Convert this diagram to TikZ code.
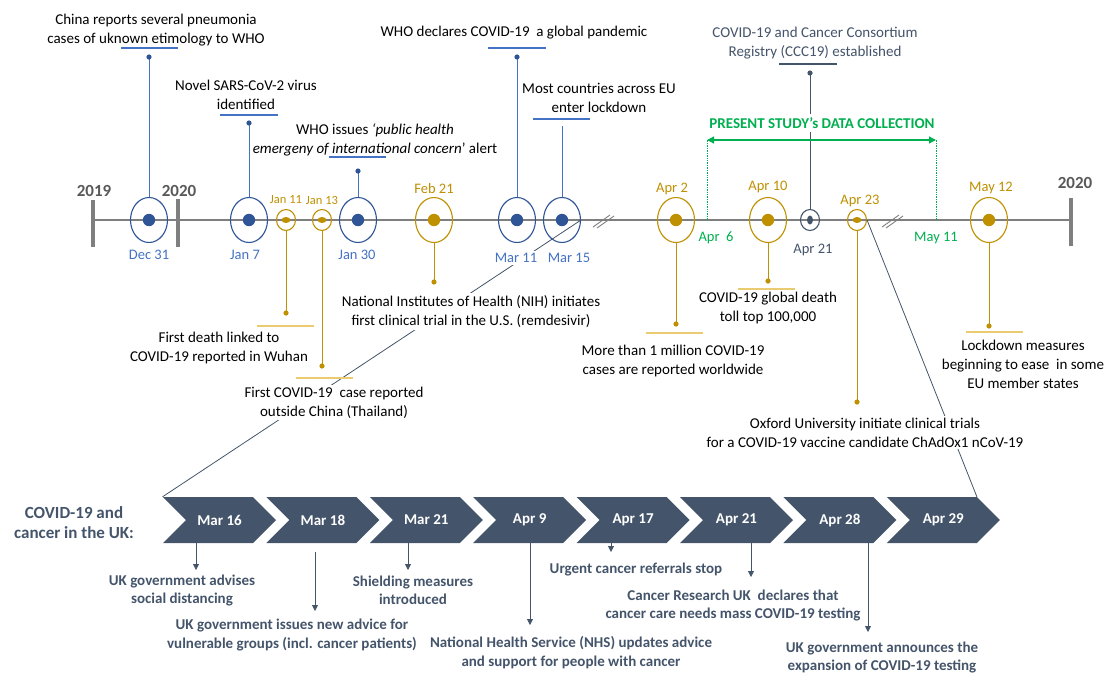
\documentclass[tikz,border=0pt]{standalone}
\usepackage{fontspec}
\setmainfont{Carlito}
\usetikzlibrary{shapes.geometric,shapes.symbols,arrows.meta}

\definecolor{evblue}{HTML}{2F5597}
\definecolor{evlblue}{HTML}{4472C4}
\definecolor{evgold}{HTML}{BF9000}
\definecolor{evlgold}{HTML}{EBCB70}
\definecolor{slate}{HTML}{44546A}
\definecolor{studygreen}{HTML}{00B050}
\definecolor{axisgray}{HTML}{7F7F7F}
\definecolor{yeargray}{HTML}{595959}

\tikzset{
  bigev/.style={ellipse, draw=#1, line width=1.1pt, minimum width=37,
                minimum height=45, inner sep=0},
  smallev/.style={ellipse, draw=#1, line width=1.1pt, minimum width=19,
                  minimum height=21, inner sep=0},
  evtext/.style={font=\fontsize{15}{19}\selectfont, align=center,
                 fill=white, inner sep=2pt},
  datelbl/.style={font=\fontsize{14.5}{16}\selectfont, text=#1,
                  fill=white, inner sep=2.5pt},
  smalldate/.style={font=\fontsize{12.5}{14}\selectfont, text=evgold,
                    inner sep=1pt},
  year/.style={font=\bfseries\fontsize{17}{20}\selectfont, text=yeargray},
  chev/.style={signal, signal from=west, signal to=east, fill=slate,
               text=white, font=\bfseries\fontsize{15}{16}\selectfont,
               minimum width=113, minimum height=46, inner sep=0},
  uktext/.style={font=\bfseries\fontsize{15}{18.5}\selectfont,
                 text=slate, align=center},
  ukarrow/.style={slate, line width=0.8pt,
                  -{Triangle[width=6pt,length=6pt]}}
}

\begin{document}
\begin{tikzpicture}[x=1pt,y=-1pt]
\useasboundingbox (0,0) rectangle (1104,673);

% Time axis of the outbreak (one pixel of the figure is one unit)
\def \axis{220}
\draw[axisgray, line width=1.3pt] (93,\axis) -- (1071,\axis);
\draw[axisgray, line width=3.5pt] (93,200)   -- (93,247)
                                  (178,199)  -- (178,247)
                                  (1071,198) -- (1071,246);
\node[year] (y2019)  at (94,191)   {2019};
\node[year] (y2020)  at (179,191)  {2020};
\node[year] (y2020r) at (1075,183) {2020};

% Breaks of the time scale
\coordinate (brk1) at (603,221);
\coordinate (brk2) at (892,221);
\draw[axisgray, line width=0.9pt, shift={(brk1)}] (-10,6) -- (7,-6)
                                                  (-6,7)  -- (11,-5);
\draw[axisgray, line width=0.9pt, shift={(brk2)}] (-10,6) -- (7,-6)
                                                  (-6,7)  -- (11,-5);

% Events on the axis (blue: WHO, gold: spread, slate: registry)
\node[bigev=evblue]   (dec31) at (149,\axis) {};
\node[bigev=evblue]   (jan7)  at (249,\axis) {};
\node[smallev=evgold] (jan11) at (286,\axis) {};
\node[smallev=evgold] (jan13) at (322,\axis) {};
\node[bigev=evblue]   (jan30) at (358,\axis) {};
\node[bigev=evgold]   (feb21) at (434,\axis) {};
\node[bigev=evblue]   (mar11) at (517,\axis) {};
\node[bigev=evblue]   (mar15) at (562,\axis) {};
\node[bigev=evgold]   (apr2)  at (676,\axis) {};
\node[bigev=evgold]   (apr10) at (768,\axis) {};
\node[smallev=slate]  (apr21) at (810,\axis) {};
\node[smallev=evgold] (apr23) at (857,\axis) {};
\node[bigev=evgold]   (may12) at (989,\axis) {};

% Filled centres of the events
\fill[evblue] (dec31) circle [radius=6.2]
              (jan7)  circle [radius=6.2]
              (jan30) circle [radius=6.2]
              (mar11) circle [radius=6.2]
              (mar15) circle [radius=6.2];
\fill[evgold] (feb21) circle [radius=6.2]
              (apr2)  circle [radius=6.2]
              (apr10) circle [radius=6.2]
              (may12) circle [radius=6.2]
              (jan11) ellipse [x radius=4.5, y radius=3]
              (jan13) ellipse [x radius=4.5, y radius=3]
              (apr23) ellipse [x radius=4.5, y radius=3];
\fill[slate]  (apr21) ellipse [x radius=3, y radius=4.5];

% UK timeline (chevrons)
\node[uktext, font=\bfseries\fontsize{17}{20}\selectfont] (uktitle)
     at (74,523) {COVID-19 and\\cancer in the UK:};
\node[chev] (uk1) at (219.5,520) {Mar 16};
\node[chev] (uk2) at (322.9,520) {Mar 18};
\node[chev] (uk3) at (426.3,520) {Mar 21};
\node[chev] (uk4) at (529.7,520) {Apr 9};
\node[chev] (uk5) at (633.1,520) {Apr 17};
\node[chev] (uk6) at (736.5,520) {Apr 21};
\node[chev] (uk7) at (839.9,520) {Apr 28};
\node[chev] (uk8) at (943.3,520) {Apr 29};

% Links between the two timelines (hidden behind the texts)
\draw[slate, line width=0.8pt] (mar15.east) -- (uk1.north west)
                               (apr23.east) -- (uk8.north east);

% Dates of the events
\node[datelbl=evlblue] (dec31lbl) at (149,255) {Dec 31};
\node[datelbl=evlblue] (jan7lbl)  at (245,255) {Jan 7};
\node[datelbl=evlblue] (jan30lbl) at (357,255) {Jan 30};
\node[datelbl=evlblue] (mar11lbl) at (516,258) {Mar 11};
\node[datelbl=evlblue] (mar15lbl) at (569,258) {Mar 15};
\node[datelbl=slate]   (apr21lbl) at (813,250) {Apr 21};
\node[datelbl=evgold]  (feb21lbl) at (434,189) {Feb 21};
\node[datelbl=evgold]  (apr2lbl)  at (672,189) {Apr 2};
\node[datelbl=evgold]  (apr10lbl) at (768,187) {Apr 10};
\node[datelbl=evgold]  (apr23lbl) at (860,201) {Apr 23};
\node[datelbl=evgold]  (may12lbl) at (991,188) {May 12};
\node[smalldate]       (jan11lbl) at (286,200) {Jan 11};
\node[smalldate]       (jan13lbl) at (322,200) {Jan 13};

% Texts of the events
\node[evtext] (chinatxt)    at (156,30)    {China reports several pneumonia\\
                                            cases of uknown etimology to WHO};
\node[evtext] (noveltxt)    at (246,95)    {Novel SARS-CoV-2 virus\\identified};
\node[evtext] (pheictxt)    at (375,140)   {WHO issues \textit{‘public health}\\
                                            \textit{emergeny of international concern}’ alert};
\node[evtext] (pandemictxt) at (514,33)    {WHO declares COVID-19\ \ a global pandemic};
\node[evtext] (lockdowntxt) at (599,97.5)  {Most countries across EU\\enter lockdown};
\node[evtext, text=slate] (ccc19txt) at (815,43.5)
                                           {COVID-19 and Cancer Consortium\\
                                            Registry (CCC19) established};
\node[evtext] (deathtxt)    at (219,347.5) {First death linked to\\
                                            COVID-19 reported in Wuhan};
\node[evtext] (thaitxt)     at (334,402.5) {First COVID-19\ \ case reported\\
                                            outside China (Thailand)};
\node[evtext] (nihtxt)      at (471,311.5) {National Institutes of Health (NIH) initiates\\
                                            first clinical trial in the U.S. (remdesivir)};
\node[evtext] (milliontxt)  at (673,360.5) {More than 1 million COVID-19\\
                                            cases are reported worldwide};
\node[evtext] (tolltxt)     at (768,308)   {COVID-19 global death\\toll top 100,000};
\node[evtext] (oxfordtxt)   at (865,432.5) {Oxford University initiate clinical trials\\
                                            for a COVID-19 vaccine candidate ChAdOx1 nCoV-19};
\node[evtext] (easetxt)     at (1023,364.5) {Lockdown measures\\
                                            beginning to ease\ \ in some\\EU member states};

% Ends of the stems
\coordinate (dec31top) at (149,57);
\coordinate (jan7top)  at (249,123);
\coordinate (jan30top) at (358,171);
\coordinate (mar11top) at (517,57);
\coordinate (mar15top) at (562,126);
\coordinate (apr21top) at (810,73);
\coordinate (jan11bot) at (286,313);
\coordinate (jan13bot) at (322,366);
\coordinate (feb21bot) at (434,282);
\coordinate (apr2bot)  at (676,324);
\coordinate (apr10bot) at (768,281);
\coordinate (apr23bot) at (857,402);
\coordinate (may12bot) at (989,326);

% Stems from the events to their texts
\draw[evlblue, line width=1pt] (dec31.north) -- (dec31top)
                               (jan7.north)  -- (jan7top)
                               (jan30.north) -- (jan30top)
                               (mar11.north) -- (mar11top)
                               (mar15.north) -- (mar15top);
\draw[evgold, line width=1pt]  (jan11.south) -- (jan11bot)
                               (jan13.south) -- (jan13bot)
                               (feb21.south) -- (feb21bot)
                               (apr2.south)  -- (apr2bot)
                               (apr10.south) -- (apr10bot)
                               (apr23.south) -- (apr23bot)
                               (may12.south) -- (may12bot);
\draw[slate, line width=1pt]   (apr21.north) -- (apr21top);
\fill[evblue] (dec31top) circle [radius=2.6]
              (jan7top)  circle [radius=2.6]
              (jan30top) circle [radius=2.6]
              (mar11top) circle [radius=2.6];
\fill[evgold] (jan11bot) circle [radius=2.6]
              (jan13bot) circle [radius=2.6]
              (feb21bot) circle [radius=2.6]
              (apr2bot)  circle [radius=2.6]
              (apr10bot) circle [radius=2.6]
              (apr23bot) circle [radius=2.6]
              (may12bot) circle [radius=2.6];
\fill[slate]  (apr21top) circle [radius=2.6];

% Short rules under the texts
\draw[evlblue, line width=1.3pt] (121,48)  -- (178,48)
                                 (220,115) -- (278,115)
                                 (329,157) -- (386,157)
                                 (488,48)  -- (546,48)
                                 (533,119) -- (590,119);
\draw[evlgold, line width=1.5pt] (257,326) -- (314,326)
                                 (296,378) -- (353,378)
                                 (646,333) -- (703,333)
                                 (738,289) -- (795,289)
                                 (966,332) -- (1023,332);
\draw[slate, line width=1.2pt]   (779,64)  -- (837,64);

% Period of the data collection
\coordinate (apr6)     at (707,\axis);
\coordinate (may11)    at (936,\axis);
\coordinate (apr6top)  at (707,140);
\coordinate (may11top) at (936,140);
\draw[studygreen, densely dotted, line width=0.7pt] (apr6)  -- (apr6top)
                                                    (may11) -- (may11top);
\draw[studygreen, line width=1.3pt,
      {Triangle[width=7pt,length=7pt]}-{Triangle[width=7pt,length=7pt]}]
      (apr6top) -- (may11top);
\node[font=\bfseries\fontsize{15}{17}\selectfont, text=studygreen,
      fill=white, inner sep=3pt] (study) at (822,123)
      {PRESENT STUDY’s DATA COLLECTION};
\node[datelbl=studygreen] (apr6lbl)  at (716,238) {Apr\ \ 6};
\node[datelbl=studygreen] (may11lbl) at (936,238) {May 11};

% UK events below the chevrons
\node[uktext] (uk1txt) at (182,590.5) {UK government advises\\social distancing};
\node[uktext] (uk2txt) at (292,635)   {UK government issues new advice for\\
                                       vulnerable groups (incl. cancer patients)};
\node[uktext] (uk3txt) at (413,590.5) {Shielding measures\\introduced};
\node[uktext] (uk4txt) at (571,652.5) {National Health Service (NHS) updates advice\\
                                       and support for people with cancer};
\node[uktext] (uk5txt) at (636,569)   {Urgent cancer referrals stop};
\node[uktext] (uk6txt) at (733,605.5) {Cancer Research UK\ \ declares that\\
                                       cancer care needs mass COVID-19 testing};
\node[uktext] (uk7txt) at (882,657.5) {UK government announces the\\
                                       expansion of COVID-19 testing};

% Arrows from the chevrons
\coordinate (uk1end) at (196,570);
\coordinate (uk2end) at (315,611);
\coordinate (uk3end) at (408,570);
\coordinate (uk4end) at (530,625);
\coordinate (uk5end) at (611,552);
\coordinate (uk6end) at (751,577);
\coordinate (uk7end) at (868,632);
\draw[ukarrow] (uk1end |- uk1.south) -- (uk1end);
\draw[ukarrow] (315,552) -- (uk2end);
\draw[ukarrow] (uk3end |- uk3.south) -- (uk3end);
\draw[ukarrow] (uk4end |- uk4.south) -- (uk4end);
\draw[ukarrow] (uk5end |- uk5.south) -- (uk5end);
\draw[ukarrow] (uk6end |- uk6.south) -- (uk6end);
\draw[ukarrow] (uk7end |- uk7.south) -- (uk7end);
\end{tikzpicture}
\end{document}
